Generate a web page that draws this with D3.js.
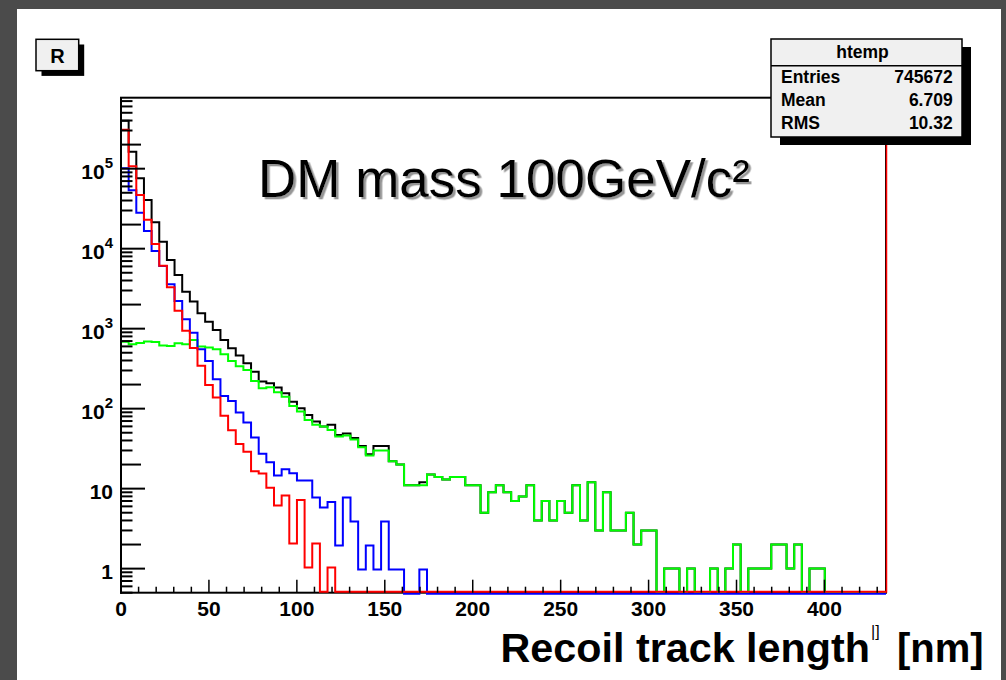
<!DOCTYPE html>
<html><head><meta charset="utf-8">
<script src="https://cdn.jsdelivr.net/npm/d3@7/dist/d3.min.js"></script>
<style>html,body{margin:0;padding:0;background:#4b4b4b;}svg{display:block}</style>
</head><body><svg id="c" width="1006" height="680"></svg>
<script>
// ---- data ----
const xMin = 0, xMax = 435, nBins = 100;
const blackCounts = [398000,163000,75900,40600,21400,12200,7230,4690,2900,2180,
 1560,1220,964,722,569,462,369,290,218,208,
 184,156,122,101,83,69,60,63,47,49,
 43,34,27,34,34,22,20,11,11,12,
 15,14,13,14,14,11,11,5,9,11,
 9,7,8,11,4,7,4,7,5,11,
 4,12,3,9,3,3,5,2,3,3,
 0,1,1,0,1,0,0,1,0,1,
 2,0,1,1,1,2,2,1,2,0,
 1,1,0,0,0,0,0,0,0,0];
const greenCounts = [688,640,660,690,680,615,605,655,640,722,
 600,580,553,480,395,338,305,222,180,185,
 160,141,108,92,72,63,60,54,45,46,
 41,33,26,30,30,22,20,11,11,11,
 15,14,13,14,14,11,11,5,9,11,
 9,7,8,11,4,7,4,7,5,11,
 4,12,3,9,3,3,5,2,3,3,
 0,1,1,0,1,0,0,1,0,1,
 2,0,1,1,1,2,2,1,2,0,
 1,1,0,0,0,0,0,0,0,0];
const redCounts = [298000,104000,45600,22400,11100,5960,3200,1630,917,557,
 335,192,134,79,52,35,28,16,15,10,
 6,8,2,7,1,2,0,1,0,0,
 0,0,0,0,0,0,0,0,0,0,
 0,0,0,0,0,0,0,0,0,0,
 0,0,0,0,0,0,0,0,0,0,
 0,0,0,0,0,0,0,0,0,0,
 0,0,0,0,0,0,0,0,0,0,
 0,0,0,0,0,0,0,0,0,0,
 0,0,0,0,0,0,0,0,0,0];
const blueCounts = [104000,55300,29000,17100,9640,6250,3690,2285,1350,917,
 569,406,240,148,128,92,69,45,28,22,
 15,18,16,13,13,8,6,7,2,8,
 4,1,2,1,4,1,1,0,0,1,
 0,0,0,0,0,0,0,0,0,0,
 0,0,0,0,0,0,0,0,0,0,
 0,0,0,0,0,0,0,0,0,0,
 0,0,0,0,0,0,0,0,0,0,
 0,0,0,0,0,0,0,0,0,0,
 0,0,0,0,0,0,0,0,0,0];
const xTickLabels = [0,50,100,150,200,250,300,350,400];
const yDecades = [1,10,100,1000,10000,100000];
const yTickLabels = [["1",""],["10",""],["10","2"],["10","3"],["10","4"],["10","5"]];
const statsTitle = "htemp";
const statsRows = [["Entries","745672"],["Mean","6.709"],["RMS","10.32"]];
const titleText = "DM mass 100GeV/c²";
const xTitleText = "Recoil track length";
const xUnitText = "[nm]";

// ---- drawing ----
const svg = d3.select("#c");
const FONT = "'Liberation Sans', Arial, Helvetica, sans-serif";
const defs = svg.append("defs");
const f = defs.append("filter").attr("id","shadow").attr("x","-5%").attr("y","-20%").attr("width","110%").attr("height","140%");
f.append("feDropShadow").attr("dx",2.5).attr("dy",2.3).attr("stdDeviation",0.6).attr("flood-color","#8a8a8a").attr("flood-opacity",0.9);

svg.append("rect").attr("x",17).attr("y",9).attr("width",984).attr("height",671).attr("fill","#fff");

const x = d3.scaleLinear().domain([xMin,xMax]).range([121,886]);
const y = d3.scaleLog().domain([0.5, 771800]).range([592.7,97.7]);
const binW = (xMax-xMin)/nBins;

// frame
svg.append("rect").attr("x",x(xMin)).attr("y",y.range()[1]).attr("width",x(xMax)-x(xMin))
  .attr("height",y.range()[0]-y.range()[1]).attr("fill","none").attr("stroke","#000").attr("stroke-width",2);

// histograms
function histPath(counts){
  const pts = [];
  counts.forEach((c,i)=>{
    const yy = c>0 ? y(c) : y.range()[0];
    pts.push([x(xMin+i*binW), yy]);
    pts.push([x(xMin+(i+1)*binW), yy]);
  });
  pts.push([x(xMax), y.range()[0]]);
  return d3.line()(pts);
}
const hist = svg.append("g").attr("fill","none").attr("stroke-width",2).attr("stroke-linejoin","miter");
hist.append("path").attr("d",histPath(blackCounts)).attr("stroke","#000");
hist.append("path").attr("d",histPath(greenCounts)).attr("stroke","#00ff00");
hist.append("path").attr("d",histPath(blueCounts)).attr("stroke","#0000ff").attr("transform","translate(0,1)");
hist.append("path").attr("d",histPath(redCounts)).attr("stroke","#ff0000").attr("transform","translate(0,-1)");
// right edge line of red histogram
svg.append("line").attr("x1",x(xMax)+0.5).attr("x2",x(xMax)+0.5).attr("y1",y.range()[1]).attr("y2",y.range()[0])
  .attr("stroke","#ff0000").attr("stroke-width",1.5);
// left axis line redrawn on top
svg.append("line").attr("x1",x(xMin)).attr("x2",x(xMin)).attr("y1",y.range()[1]).attr("y2",y.range()[0]+1)
  .attr("stroke","#000").attr("stroke-width",2);

// y ticks (inside)
const yT = svg.append("g");
for (let n=-1;n<=5;n++){
  for (let k=1;k<=9;k++){
    const v = k*Math.pow(10,n);
    if (v < y.domain()[0] || v > y.domain()[1]) continue;
    const len = k===1?24:(k===2?20:11.5);
    yT.append("line").attr("x1",x(xMin)).attr("x2",x(xMin)+len).attr("y1",y(v)).attr("y2",y(v))
      .attr("stroke","#000").attr("stroke-width",2);
  }
}
// x ticks
const xT = svg.append("g");
for (let v=0; v<=xMax; v+=10){
  const major = v%50===0;
  xT.append("line").attr("x1",x(v)).attr("x2",x(v)).attr("y1",y.range()[0]).attr("y2",y.range()[0]-(major?13:6))
    .attr("stroke","#000").attr("stroke-width",1.5);
}
// x labels
svg.append("g").selectAll("text").data(xTickLabels).join("text")
  .attr("x",d=>x(d)).attr("y",615.5).attr("text-anchor","middle")
  .attr("font-family",FONT).attr("font-weight","bold").attr("font-size",21).text(d=>d);
// y labels
yDecades.forEach((v,i)=>{
  const [base,exp] = yTickLabels[i];
  const t = svg.append("text").attr("x",113).attr("y",y(v)+10.5).attr("text-anchor","end")
    .attr("font-family",FONT).attr("font-weight","bold").attr("font-size",21);
  t.append("tspan").text(base);
  if (exp) t.append("tspan").attr("font-size",15).attr("dy",-11).text(exp);
});

// title with shadow
svg.append("text").attr("x",258).attr("y",196.7).attr("font-family",FONT).attr("font-size",53)
  .attr("fill","#000").attr("filter","url(#shadow)").text(titleText);

// R box
svg.append("rect").attr("x",41.5).attr("y",44.5).attr("width",42.7).attr("height",31.4).attr("fill","#000");
svg.append("rect").attr("x",36).attr("y",39.3).attr("width",42.7).attr("height",31.4).attr("fill","#f0f0f0").attr("stroke","#000").attr("stroke-width",1.5);
svg.append("text").attr("x",57.5).attr("y",62.5).attr("text-anchor","middle").attr("font-family",FONT)
  .attr("font-weight","bold").attr("font-size",20).text("R");

// stats box
const sb = {x:771, y:39, w:191, h:98};
svg.append("rect").attr("x",sb.x+9).attr("y",sb.y+8).attr("width",sb.w).attr("height",sb.h).attr("fill","#000");
svg.append("rect").attr("x",sb.x).attr("y",sb.y).attr("width",sb.w).attr("height",sb.h).attr("fill","#f0f0f0")
  .attr("stroke","#000").attr("stroke-width",1.5);
svg.append("line").attr("x1",sb.x).attr("x2",sb.x+sb.w).attr("y1",65.7).attr("y2",65.7).attr("stroke","#000").attr("stroke-width",1.5);
svg.append("text").attr("x",sb.x+sb.w/2-4).attr("y",58).attr("text-anchor","middle").attr("font-family",FONT)
  .attr("font-weight","bold").attr("font-size",17.5).text(statsTitle);
statsRows.forEach((r,i)=>{
  const yy = 83.3 + i*23;
  svg.append("text").attr("x",781).attr("y",yy).attr("font-family",FONT).attr("font-weight","bold").attr("font-size",17.5).text(r[0]);
  svg.append("text").attr("x",952.7).attr("y",yy).attr("text-anchor","end").attr("font-family",FONT).attr("font-weight","bold").attr("font-size",17.5).text(r[1]);
});

// x axis title
svg.append("text").attr("x",870).attr("y",661.7).attr("text-anchor","end").attr("font-family",FONT)
  .attr("font-weight","bold").attr("font-size",41.3).text(xTitleText);
svg.append("text").attr("x",897).attr("y",661.7).attr("font-family",FONT)
  .attr("font-weight","bold").attr("font-size",40).text(xUnitText);
svg.append("text").attr("x",871).attr("y",637).attr("font-family",FONT).attr("font-size",16).text("|]");
</script></body></html>
